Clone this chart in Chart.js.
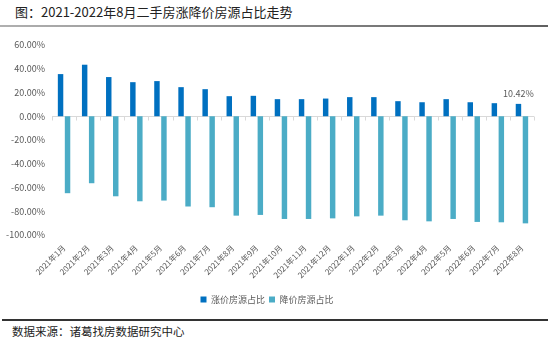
<!DOCTYPE html>
<html>
<head>
<meta charset="utf-8">
<script src="https://cdn.jsdelivr.net/npm/chart.js@4/dist/chart.umd.min.js"></script>
<style>
    body { margin: 0; width: 548px; height: 348px; background: #fff; position: relative; overflow: hidden;
        font-family: "Noto Sans CJK SC", "Noto Sans", sans-serif; }
    .title { position: absolute; left: 15px; top: 3px; font-size: 13px; color: #222; line-height: 18px; }
    .title-line { position: absolute; left: 0; top: 25px; width: 548px; height: 2px;
        background: linear-gradient(to right, #b0b0b0, #606060); }
    .chart-box { position: absolute; left: 0; top: 28px; width: 548px; height: 290px; }
    .foot-line { position: absolute; left: 2px; top: 319px; width: 546px; height: 2px; background: #333; }
    .source { position: absolute; left: 12px; top: 323px; font-size: 11.5px; color: #222; line-height: 16px; }
</style>
</head>
<body>
<div class="title">图：2021-2022年8月二手房涨降价房源占比走势</div>
<div class="title-line"></div>
<div class="chart-box"><canvas id="share-chart"></canvas></div>
<div class="foot-line"></div>
<div class="source">数据来源：诸葛找房数据研究中心</div>

<script>
// months on the x axis
const months = ['2021年1月', '2021年2月', '2021年3月', '2021年4月', '2021年5月', '2021年6月', '2021年7月',
    '2021年8月', '2021年9月', '2021年10月', '2021年11月', '2021年12月', '2022年1月', '2022年2月',
    '2022年3月', '2022年4月', '2022年5月', '2022年6月', '2022年7月', '2022年8月'];

// share of listings with rising / falling prices (%)
const riseShare = [35.5, 43.4, 33.0, 28.7, 29.6, 24.5, 22.8, 16.9, 17.2, 14.4,
    14.4, 14.9, 16.1, 16.1, 12.7, 11.8, 14.4, 11.8, 11.0, 10.42];
const fallShare = [-64.8, -56.4, -67.4, -71.6, -71.0, -76.0, -76.6, -83.7, -83.1, -86.5,
    -86.5, -86.0, -84.3, -83.7, -87.6, -88.5, -86.5, -89.0, -89.3, -90.2];

const seriesNames = ['涨价房源占比', '降价房源占比'];
const yTicks = [-100, -80, -60, -40, -20, 0, 20, 40, 60];

const fontFamily = '"Noto Sans CJK SC", "Noto Sans", sans-serif';
const textGrey = '#595959';

// zero line with small tick marks, like the excel axis
const zeroAxis = {
    id: 'zeroAxis',
    beforeDatasetsDraw(chart) {
        const ctx = chart.ctx;
        const area = chart.chartArea;
        const y0 = Math.round(chart.scales.y.getPixelForValue(0)) + 0.5;
        ctx.save();
        ctx.strokeStyle = '#d9d9d9';
        ctx.lineWidth = 1;
        ctx.beginPath();
        ctx.moveTo(area.left, y0);
        ctx.lineTo(area.right, y0);
        const step = (area.right - area.left) / months.length;
        for (let i = 0; i <= months.length; i++) {
            const px = Math.round(area.left + step * i) + 0.5;
            ctx.moveTo(px, y0);
            ctx.lineTo(px, y0 + 4);
        }
        ctx.stroke();
        ctx.restore();
    }
};

// label on the last rising bar only
const lastLabel = {
    id: 'lastLabel',
    afterDatasetsDraw(chart) {
        const meta = chart.getDatasetMeta(0);
        const last = meta.data[meta.data.length - 1];
        const ctx = chart.ctx;
        ctx.save();
        ctx.font = '9px ' + fontFamily;
        ctx.fillStyle = textGrey;
        ctx.textAlign = 'center';
        ctx.textBaseline = 'bottom';
        ctx.fillText(riseShare[riseShare.length - 1].toFixed(2) + '%', last.x, last.y - 6);
        ctx.restore();
    }
};

new Chart(document.querySelector('#share-chart'), {
    type: 'bar',
    data: {
        labels: months,
        datasets: [{
            label: seriesNames[0],
            data: riseShare,
            backgroundColor: '#0070C0',
            categoryPercentage: 0.58,
            barPercentage: 0.78
        }, {
            label: seriesNames[1],
            data: fallShare,
            backgroundColor: '#4BACC6',
            categoryPercentage: 0.58,
            barPercentage: 0.78
        }]
    },
    options: {
        responsive: true,
        maintainAspectRatio: false,
        animation: false,
        layout: {
            padding: { top: 17, right: 14, bottom: 4, left: 0 }
        },
        scales: {
            x: {
                grid: { display: false, drawTicks: false },
                border: { display: false },
                ticks: {
                    autoSkip: false,
                    maxRotation: 45,
                    minRotation: 45,
                    padding: 8,
                    color: textGrey,
                    font: { size: 8, family: fontFamily }
                },
                afterFit: s => { s.height = 56; }
            },
            y: {
                min: -100,
                max: 60,
                grid: { display: false, drawTicks: false },
                border: { display: false },
                afterBuildTicks: s => { s.ticks = yTicks.map(v => ({ value: v })); },
                ticks: {
                    padding: 7,
                    color: textGrey,
                    font: { size: 9, family: fontFamily },
                    callback: v => v.toFixed(2) + '%'
                },
                afterFit: s => { s.width = 52; }
            }
        },
        plugins: {
            legend: {
                position: 'bottom',
                labels: {
                    boxWidth: 6,
                    boxHeight: 6,
                    padding: 4,
                    color: textGrey,
                    font: { size: 9, family: fontFamily }
                }
            },
            tooltip: { enabled: false }
        }
    },
    plugins: [zeroAxis, lastLabel]
});
</script>
</body>
</html>
